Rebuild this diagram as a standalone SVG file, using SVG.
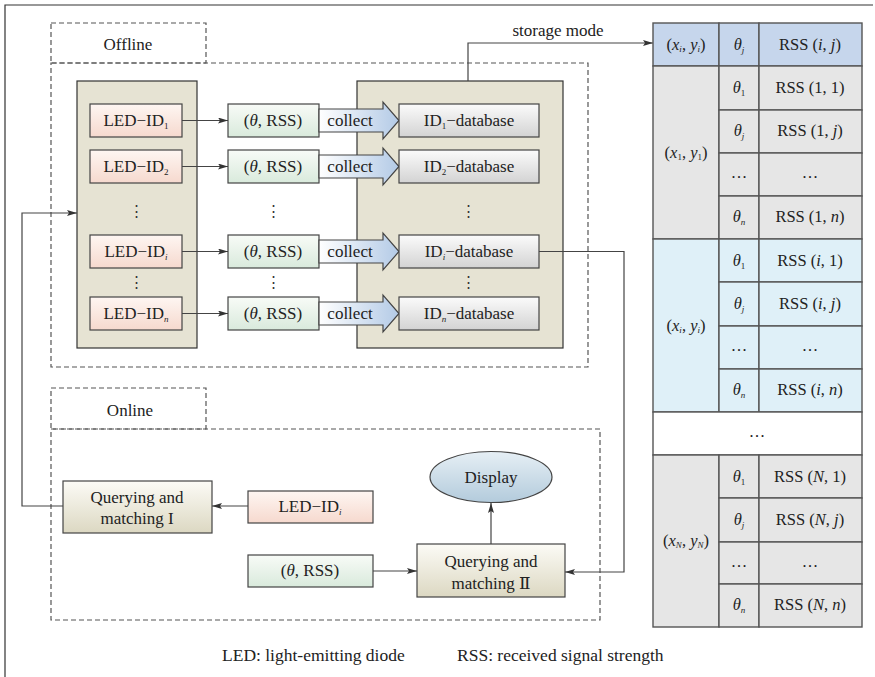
<svg xmlns="http://www.w3.org/2000/svg" width="875" height="677" viewBox="0 0 875 677" font-family="'Liberation Serif', 'DejaVu Serif', serif">
<defs>
<linearGradient id="gPink" x1="0" y1="0" x2="0" y2="1"><stop offset="0" stop-color="#fef6f2"/><stop offset="1" stop-color="#f6d9ce"/></linearGradient>
<linearGradient id="gGreen" x1="0" y1="0" x2="0" y2="1"><stop offset="0" stop-color="#f8fbf7"/><stop offset="1" stop-color="#d9eadc"/></linearGradient>
<linearGradient id="gGray" x1="0" y1="0" x2="0" y2="1"><stop offset="0" stop-color="#fbfbfb"/><stop offset="1" stop-color="#d3d3d3"/></linearGradient>
<linearGradient id="gCollect" x1="0" y1="0" x2="1" y2="0"><stop offset="0" stop-color="#ffffff"/><stop offset="1" stop-color="#b3cae6"/></linearGradient>
<linearGradient id="gQuery" x1="0" y1="0" x2="0" y2="1"><stop offset="0" stop-color="#fcfbf6"/><stop offset="1" stop-color="#dcd8c2"/></linearGradient>
<linearGradient id="gDisplay" x1="0" y1="0" x2="0" y2="1"><stop offset="0" stop-color="#e6eff5"/><stop offset="1" stop-color="#b3cbdc"/></linearGradient>
<marker id="arr" viewBox="0 0 10 6" refX="10" refY="3" markerWidth="10" markerHeight="6" markerUnits="userSpaceOnUse" orient="auto"><path d="M0,0 L10,3 L0,6 L2,3 Z" fill="#333"/></marker>
</defs>
<style>
text{font-family:'Liberation Serif','DejaVu Serif',serif;fill:#222;}
.t{font-size:17px;text-anchor:middle;}
.s{font-size:16.5px;text-anchor:middle;}
.it{font-style:italic;}
.dash{fill:none;stroke:#555;stroke-width:1.2;stroke-dasharray:5,3;}
.box{stroke:#444;stroke-width:1.2;}
.panel{fill:#e6e3d3;stroke:#333;stroke-width:1.2;}
.line{fill:none;stroke:#444;stroke-width:1.2;}
.cell{stroke:#555;stroke-width:1.4;}
.dots{font-size:15px;text-anchor:middle;fill:#333;}
</style>
<rect width="875" height="677" fill="#fff"/>
<path d="M5,677 V5 H873" fill="none" stroke="#333" stroke-width="1.2"/>

<g id="offline">
<rect class="dash" x="51" y="23" width="155" height="40"/>
<text class="t" x="128" y="50">Offline</text>
<rect class="dash" x="51" y="63" width="537" height="304"/>
</g>
<g id="led-panel"><rect class="panel" x="77" y="81" width="120" height="267"/></g>
<g id="db-panel"><rect class="panel" x="357" y="81" width="206" height="267"/></g>

<g id="led1"><rect class="box" x="90" y="104" width="92" height="33" fill="url(#gPink)"/><text class="t" x="136" y="126">LED−ID<tspan font-size="9" dy="3">1</tspan></text></g>
<g id="led2"><rect class="box" x="90" y="150" width="92" height="33" fill="url(#gPink)"/><text class="t" x="136" y="172">LED−ID<tspan font-size="9" dy="3">2</tspan></text></g>
<g id="ledi"><rect class="box" x="90" y="235" width="92" height="33" fill="url(#gPink)"/><text class="t" x="136" y="257">LED−ID<tspan font-size="9" dy="3" class="it">i</tspan></text></g>
<g id="ledn"><rect class="box" x="90" y="297" width="92" height="33" fill="url(#gPink)"/><text class="t" x="136" y="319">LED−ID<tspan font-size="9" dy="3" class="it">n</tspan></text></g>

<g id="rss1"><rect class="box" x="228" y="104" width="91" height="33" fill="url(#gGreen)"/><text class="t" x="273" y="126">(<tspan class="it">θ</tspan>, RSS)</text></g>
<g id="rss2"><rect class="box" x="228" y="150" width="91" height="33" fill="url(#gGreen)"/><text class="t" x="273" y="172">(<tspan class="it">θ</tspan>, RSS)</text></g>
<g id="rssi"><rect class="box" x="228" y="235" width="91" height="33" fill="url(#gGreen)"/><text class="t" x="273" y="257">(<tspan class="it">θ</tspan>, RSS)</text></g>
<g id="rssn"><rect class="box" x="228" y="297" width="91" height="33" fill="url(#gGreen)"/><text class="t" x="273" y="319">(<tspan class="it">θ</tspan>, RSS)</text></g>

<g id="collect1"><path class="box" d="M319,109 H383 V102 L399,120.5 L383,139 V132 H319 Z" fill="url(#gCollect)"/><text class="t" x="350" y="126">collect</text></g>
<g id="collect2"><path class="box" d="M319,155 H383 V148 L399,166.5 L383,185 V178 H319 Z" fill="url(#gCollect)"/><text class="t" x="350" y="172">collect</text></g>
<g id="collecti"><path class="box" d="M319,240 H383 V233 L399,251.5 L383,270 V263 H319 Z" fill="url(#gCollect)"/><text class="t" x="350" y="257">collect</text></g>
<g id="collectn"><path class="box" d="M319,302 H383 V295 L399,313.5 L383,332 V325 H319 Z" fill="url(#gCollect)"/><text class="t" x="350" y="319">collect</text></g>

<g id="db1"><rect class="box" x="399" y="104" width="140" height="33" fill="url(#gGray)"/><text class="t" x="469" y="126">ID<tspan font-size="9" dy="3">1</tspan><tspan dy="-3">−database</tspan></text></g>
<g id="db2"><rect class="box" x="399" y="150" width="140" height="33" fill="url(#gGray)"/><text class="t" x="469" y="172">ID<tspan font-size="9" dy="3">2</tspan><tspan dy="-3">−database</tspan></text></g>
<g id="dbi"><rect class="box" x="399" y="235" width="140" height="33" fill="url(#gGray)"/><text class="t" x="469" y="257">ID<tspan font-size="9" dy="3" class="it">i</tspan><tspan dy="-3">−database</tspan></text></g>
<g id="dbn"><rect class="box" x="399" y="297" width="140" height="33" fill="url(#gGray)"/><text class="t" x="469" y="319">ID<tspan font-size="9" dy="3" class="it">n</tspan><tspan dy="-3">−database</tspan></text></g>

<g id="vdots">
<text class="dots" x="136" y="216">⋮</text><text class="dots" x="273" y="216">⋮</text><text class="dots" x="468" y="216">⋮</text>
<text class="dots" x="136" y="287">⋮</text><text class="dots" x="273" y="287">⋮</text><text class="dots" x="468" y="287">⋮</text>
</g>

<g id="online">
<rect class="dash" x="51" y="388" width="155" height="41"/>
<text class="t" x="130" y="416">Online</text>
<rect class="dash" x="51" y="429" width="549" height="191"/>
</g>
<g id="query1"><rect class="box" x="63" y="481" width="149" height="52" fill="url(#gQuery)"/><text class="t" x="137" y="503">Querying and</text><text class="t" x="137" y="524">matching I</text></g>
<g id="ledi-online"><rect class="box" x="248" y="491" width="125" height="32" fill="url(#gPink)"/><text class="t" x="310" y="512">LED−ID<tspan font-size="9" dy="3" class="it">i</tspan></text></g>
<g id="rss-online"><rect class="box" x="248" y="555" width="125" height="32" fill="url(#gGreen)"/><text class="t" x="310" y="576">(<tspan class="it">θ</tspan>, RSS)</text></g>
<g id="query2"><rect class="box" x="417" y="544" width="148" height="53" fill="url(#gQuery)"/><text class="t" x="491" y="567">Querying and</text><text class="t" x="491" y="589">matching Ⅱ</text></g>
<g id="display"><ellipse class="box" cx="491" cy="477" rx="61" ry="25.5" fill="url(#gDisplay)"/><text class="t" x="491" y="483">Display</text></g>

<g id="connectors">
<line class="line" x1="182" y1="120.5" x2="228" y2="120.5" marker-end="url(#arr)"/>
<line class="line" x1="182" y1="166.5" x2="228" y2="166.5" marker-end="url(#arr)"/>
<line class="line" x1="182" y1="251.5" x2="228" y2="251.5" marker-end="url(#arr)"/>
<line class="line" x1="182" y1="313.5" x2="228" y2="313.5" marker-end="url(#arr)"/>
<path class="line" d="M468,81 V43 H653" marker-end="url(#arr)"/>
<path class="line" d="M539,251.5 H624 V572 H565" marker-end="url(#arr)"/>
<path class="line" d="M63,506 H22 V213 H77" marker-end="url(#arr)"/>
<line class="line" x1="248" y1="506" x2="212" y2="506" marker-end="url(#arr)"/>
<line class="line" x1="373" y1="571" x2="417" y2="571" marker-end="url(#arr)"/>
<line class="line" x1="491" y1="544" x2="491" y2="503" marker-end="url(#arr)"/>
</g>
<text font-size="17" x="558" y="36" text-anchor="middle">storage mode</text>

<g id="table">
<rect class="cell" x="653" y="23" width="66" height="43" fill="#c6d6ec"/>
<rect class="cell" x="719" y="23" width="40" height="43" fill="#c6d6ec"/>
<rect class="cell" x="759" y="23" width="103" height="43" fill="#c6d6ec"/>
<text class="s" x="686" y="50">(<tspan class="it">x</tspan><tspan font-size="9" dy="2" class="it">i</tspan><tspan dy="-2">, </tspan><tspan class="it">y</tspan><tspan font-size="9" dy="2" class="it">i</tspan><tspan dy="-2">)</tspan></text>
<text class="s" x="739" y="50"><tspan class="it">θ</tspan><tspan font-size="9" dy="3" class="it">j</tspan></text>
<text class="s" x="810" y="50">RSS (<tspan class="it">i</tspan>, <tspan class="it">j</tspan>)</text>

<g fill="#e6e6e6">
<rect class="cell" x="653" y="66" width="66" height="173"/>
<rect class="cell" x="719" y="66" width="40" height="44"/><rect class="cell" x="759" y="66" width="103" height="44"/>
<rect class="cell" x="719" y="110" width="40" height="43"/><rect class="cell" x="759" y="110" width="103" height="43"/>
<rect class="cell" x="719" y="153" width="40" height="43"/><rect class="cell" x="759" y="153" width="103" height="43"/>
<rect class="cell" x="719" y="196" width="40" height="43"/><rect class="cell" x="759" y="196" width="103" height="43"/>
</g>
<text class="s" x="686" y="158">(<tspan class="it">x</tspan><tspan font-size="9" dy="2">1</tspan><tspan dy="-2">, </tspan><tspan class="it">y</tspan><tspan font-size="9" dy="2">1</tspan><tspan dy="-2">)</tspan></text>
<text class="s" x="739" y="93"><tspan class="it">θ</tspan><tspan font-size="9" dy="3">1</tspan></text>
<text class="s" x="810" y="93">RSS (1, 1)</text>
<text class="s" x="739" y="136"><tspan class="it">θ</tspan><tspan font-size="9" dy="3" class="it">j</tspan></text>
<text class="s" x="810" y="136">RSS (1, <tspan class="it">j</tspan>)</text>
<text class="s" x="739" y="178">…</text><text class="s" x="810" y="178">…</text>
<text class="s" x="739" y="222"><tspan class="it">θ</tspan><tspan font-size="9" dy="3" class="it">n</tspan></text>
<text class="s" x="810" y="222">RSS (1, <tspan class="it">n</tspan>)</text>

<g fill="#dff0f8">
<rect class="cell" x="653" y="239" width="66" height="173"/>
<rect class="cell" x="719" y="239" width="40" height="43"/><rect class="cell" x="759" y="239" width="103" height="43"/>
<rect class="cell" x="719" y="282" width="40" height="44"/><rect class="cell" x="759" y="282" width="103" height="44"/>
<rect class="cell" x="719" y="326" width="40" height="43"/><rect class="cell" x="759" y="326" width="103" height="43"/>
<rect class="cell" x="719" y="369" width="40" height="43"/><rect class="cell" x="759" y="369" width="103" height="43"/>
</g>
<text class="s" x="686" y="331">(<tspan class="it">x</tspan><tspan font-size="9" dy="2" class="it">i</tspan><tspan dy="-2">, </tspan><tspan class="it">y</tspan><tspan font-size="9" dy="2" class="it">i</tspan><tspan dy="-2">)</tspan></text>
<text class="s" x="739" y="266"><tspan class="it">θ</tspan><tspan font-size="9" dy="3">1</tspan></text>
<text class="s" x="810" y="266">RSS (<tspan class="it">i</tspan>, 1)</text>
<text class="s" x="739" y="309"><tspan class="it">θ</tspan><tspan font-size="9" dy="3" class="it">j</tspan></text>
<text class="s" x="810" y="309">RSS (<tspan class="it">i</tspan>, <tspan class="it">j</tspan>)</text>
<text class="s" x="739" y="351">…</text><text class="s" x="810" y="351">…</text>
<text class="s" x="739" y="395"><tspan class="it">θ</tspan><tspan font-size="9" dy="3" class="it">n</tspan></text>
<text class="s" x="810" y="395">RSS (<tspan class="it">i</tspan>, <tspan class="it">n</tspan>)</text>

<rect class="cell" x="653" y="412" width="209" height="43" fill="#ffffff"/>
<text class="s" x="757" y="437">…</text>

<g fill="#e6e6e6">
<rect class="cell" x="653" y="455" width="66" height="172"/>
<rect class="cell" x="719" y="455" width="40" height="43"/><rect class="cell" x="759" y="455" width="103" height="43"/>
<rect class="cell" x="719" y="498" width="40" height="44"/><rect class="cell" x="759" y="498" width="103" height="44"/>
<rect class="cell" x="719" y="542" width="40" height="42"/><rect class="cell" x="759" y="542" width="103" height="42"/>
<rect class="cell" x="719" y="584" width="40" height="43"/><rect class="cell" x="759" y="584" width="103" height="43"/>
</g>
<text class="s" x="686" y="546">(<tspan class="it">x</tspan><tspan font-size="9" dy="2" class="it">N</tspan><tspan dy="-2">, </tspan><tspan class="it">y</tspan><tspan font-size="9" dy="2" class="it">N</tspan><tspan dy="-2">)</tspan></text>
<text class="s" x="739" y="482"><tspan class="it">θ</tspan><tspan font-size="9" dy="3">1</tspan></text>
<text class="s" x="810" y="482">RSS (<tspan class="it">N</tspan>, 1)</text>
<text class="s" x="739" y="525"><tspan class="it">θ</tspan><tspan font-size="9" dy="3" class="it">j</tspan></text>
<text class="s" x="810" y="525">RSS (<tspan class="it">N</tspan>, <tspan class="it">j</tspan>)</text>
<text class="s" x="739" y="567">…</text><text class="s" x="810" y="567">…</text>
<text class="s" x="739" y="610"><tspan class="it">θ</tspan><tspan font-size="9" dy="3" class="it">n</tspan></text>
<text class="s" x="810" y="610">RSS (<tspan class="it">N</tspan>, <tspan class="it">n</tspan>)</text>
</g>

<text font-size="17.5" x="222" y="661">LED: light-emitting diode</text>
<text font-size="17.5" x="457" y="661">RSS: received signal strength</text>
</svg>
